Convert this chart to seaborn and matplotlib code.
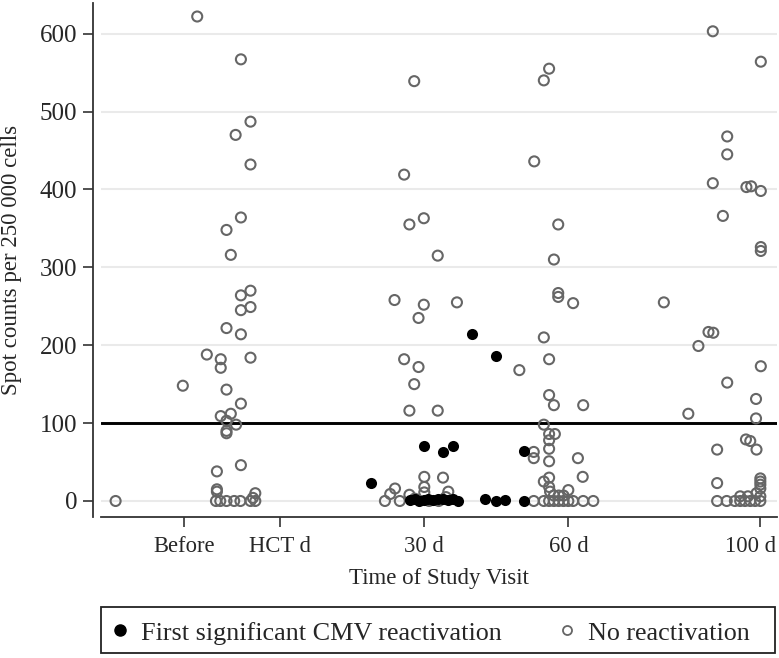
import matplotlib
matplotlib.use("Agg")
import matplotlib.pyplot as plt
from matplotlib.lines import Line2D
from matplotlib.patches import Rectangle
from matplotlib.transforms import ScaledTranslation
import seaborn as sns

# x axis is study day relative to HCT ("Before" shown at day -20)
tick_days = [-20, 0, 30, 60, 100]
tick_labels = ["Before", "HCT d", "30 d", "60 d", "100 d"]
y_ticks = [0, 100, 200, 300, 400, 500, 600]
threshold = 100

# No reactivation (hollow circles)
none_day = [
    -34.3,
    # before HCT
    -17.3, -8.2, -6.2, -9.3, -6.2, -8.2, -11.2, -10.3, -6.2, -8.2, -6.2, -8.2,
    -11.2, -8.2, -15.3, -12.4, -12.4, -6.2, -20.3, -11.2, -8.2, -12.4, -10.3,
    -11.2, -9.2, -11.2, -11.2, -8.2, -13.2, -13.2, -13.2, -5.2, -5.7,
    -13.4, -12.5, -11.2, -9.6, -8.3, -6.2, -5.2,
    # 30 d
    27.9, 25.8, 26.9, 29.9, 32.8, 23.8, 29.9, 28.8, 36.8, 25.8, 28.8, 27.9,
    26.9, 32.8, 49.8,
    21.8, 22.9, 23.9, 24.9, 26.9, 30.0, 30.0, 30.0, 33.9, 35.0, 34.5, 28.0,
    31.0, 33.0,
    # 60 d
    56.0, 54.9, 52.9, 57.9, 57.0, 57.9, 57.9, 61.0, 54.9, 56.0, 56.0, 57.0,
    63.1, 54.9, 56.0, 57.2, 56.0, 56.0, 52.8, 52.8, 56.0, 62.0, 63.0, 54.9,
    56.0, 56.0, 60.0, 57.0, 58.0, 59.0, 56.2,
    52.8, 54.9, 56.0, 57.0, 58.0, 59.0, 60.0, 61.0, 63.1, 65.2,
    # 100 d
    90.1, 100.1, 93.1, 93.1, 90.1, 97.1, 98.1, 100.1, 92.2, 100.1, 100.1,
    79.9, 89.2, 90.2, 87.1, 100.1, 93.1, 99.1, 85.0, 99.1, 97.0, 97.9, 99.2,
    91.0, 91.0, 100.0, 100.0, 100.0, 100.0, 99.2,
    91.0, 93.0, 94.7, 95.8, 96.8, 97.9, 98.9, 100.0, 95.8, 97.4, 100.0,
]
none_count = [
    0,
    622, 567, 487, 470, 432, 364, 348, 316, 270, 264, 249, 245,
    222, 214, 188, 182, 171, 184, 148, 143, 125, 109, 112,
    103, 98, 90, 87, 46, 38, 15, 12, 10, 4,
    0, 0, 0, 0, 0, 0, 0,
    539, 419, 355, 363, 315, 258, 252, 235, 255, 182, 172, 150,
    116, 116, 168,
    0, 9, 16, 0, 8, 31, 18, 11, 30, 12, 5, 3,
    0, 0,
    555, 540, 436, 355, 310, 267, 262, 254, 210, 182, 136, 123,
    123, 98, 86, 86, 78, 67, 63, 55, 51, 55, 31, 25,
    30, 18, 14, 7, 7, 7, 12,
    0, 0, 0, 0, 0, 0, 0, 0, 0, 0,
    603, 564, 468, 445, 408, 403, 404, 398, 366, 326, 321,
    255, 217, 216, 199, 173, 152, 131, 112, 106, 79, 77, 66,
    66, 23, 29, 25, 21, 16, 10,
    0, 0, 0, 0, 0, 0, 0, 0, 6, 6, 6,
]

# First significant CMV reactivation (filled circles)
cmv_day = [39.9, 45.0, 30.0, 33.8, 36.0, 50.8, 18.8,
           27.0, 28.1, 29.0, 30.0, 30.8, 31.9, 32.9, 34.0, 35.0, 36.0, 37.1,
           42.6, 45.0, 46.9, 50.8]
cmv_count = [214, 186, 71, 63, 71, 64, 23,
             1, 2, 0, 1, 2, 1, 2, 3, 1, 2, 0,
             2, 0, 1, 0]

sns.set_style("white")
plt.rcParams["font.family"] = ["Liberation Serif", "DejaVu Serif"]

fig = plt.figure(figsize=(7.79, 6.58), dpi=100)
ax = fig.add_axes([0.1293, 0.2147, 0.8677, 0.7807])

for y in y_ticks:
    ax.axhline(y, color="#eaeaea", lw=1.5, zorder=0)
ax.axhline(threshold, color="black", lw=2.1, zorder=1)

sns.scatterplot(x=none_day, y=none_count, ax=ax, marker="o", s=52,
                facecolor="none", edgecolor="#666666", linewidth=1.5,
                zorder=2, legend=False)
sns.scatterplot(x=cmv_day, y=cmv_count, ax=ax, marker="o", s=64,
                color="black", edgecolor="black", linewidth=0,
                zorder=3, legend=False)

ax.set_xlim(-37.4, 103.4)
ax.set_ylim(-20.2, 639.3)
ax.set_xticks(tick_days)
ax.set_xticklabels(tick_labels)
ax.set_yticks(y_ticks)

for side in ["top", "right"]:
    ax.spines[side].set_visible(False)
ax.spines["left"].set_position(("outward", 5.8))
for side in ["left", "bottom"]:
    ax.spines[side].set_color("#333333")
    ax.spines[side].set_linewidth(1.3)

ax.tick_params(axis="both", direction="out", length=7, width=1.2,
               color="#333333", bottom=True, left=True)
ax.tick_params(axis="x", labelsize=16.3, pad=7)
ax.tick_params(axis="y", labelsize=18, pad=4)

# last label nudged left so it stays inside the figure, as in the original
last = ax.get_xticklabels()[-1]
last.set_transform(last.get_transform() + ScaledTranslation(-0.1, 0, fig.dpi_scale_trans))

ax.set_xlabel("Time of Study Visit", fontsize=16.5)
ax.set_ylabel("Spot counts per 250 000 cells", fontsize=16.5)
ax.xaxis.set_label_coords(0.5, -0.1)
ax.yaxis.set_label_coords(-0.117, 0.5)

handles = [
    Line2D([], [], marker="o", ls="none", color="black", markersize=8,
           label="First significant CMV reactivation"),
    Line2D([], [], marker="o", ls="none", markerfacecolor="none",
           markeredgecolor="#666666", markeredgewidth=1.3, markersize=6.5,
           label="No reactivation"),
]
fig.legend(handles=handles, loc="center left",
           bbox_to_anchor=(0.1374, 0.038), ncol=2, frameon=False,
           fontsize=18.8, handletextpad=0.3, handlelength=1.0,
           columnspacing=2.0, borderaxespad=0, borderpad=0)
fig.patches.append(Rectangle((0.1293, 0.0076), 0.8656, 0.0699,
                             transform=fig.transFigure, fill=False,
                             edgecolor="#222222", linewidth=1.3))

fig.savefig("out.png", dpi=100)
